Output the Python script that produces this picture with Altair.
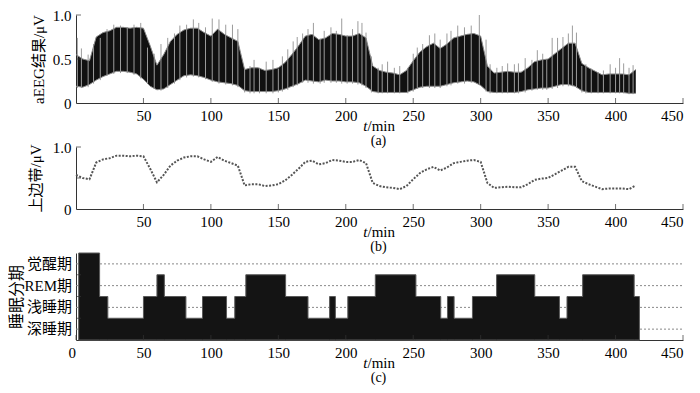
import altair as alt
import pandas as pd

FONT = "Liberation Serif, Noto Sans CJK SC"

# ---------------- data ----------------
env_t = [0, 5, 10, 15, 20, 25, 30, 35, 40, 45, 50, 55, 60, 65, 70, 75, 80, 85, 90, 95,
         100, 105, 110, 115, 120, 125, 130, 135, 140, 145, 150, 155, 160, 165, 170, 175,
         180, 185, 190, 195, 200, 205, 210, 215, 220, 225, 230, 235, 240, 245, 250, 255,
         260, 265, 270, 275, 280, 285, 290, 295, 300, 305, 310, 315, 320, 325, 330, 335,
         340, 345, 350, 355, 360, 365, 370, 375, 380, 385, 390, 395, 400, 405, 410, 415]
upper = [0.55, 0.50, 0.48, 0.75, 0.80, 0.82, 0.86, 0.86, 0.85, 0.86, 0.85, 0.65, 0.43,
         0.55, 0.70, 0.78, 0.83, 0.85, 0.85, 0.80, 0.76, 0.84, 0.78, 0.74, 0.70, 0.38,
         0.40, 0.40, 0.37, 0.38, 0.40, 0.46, 0.55, 0.65, 0.76, 0.78, 0.72, 0.74, 0.79,
         0.78, 0.76, 0.76, 0.79, 0.74, 0.42, 0.37, 0.35, 0.34, 0.32, 0.37, 0.48, 0.58,
         0.64, 0.68, 0.62, 0.67, 0.74, 0.76, 0.78, 0.79, 0.76, 0.42, 0.34, 0.35, 0.36,
         0.35, 0.35, 0.40, 0.47, 0.49, 0.50, 0.56, 0.62, 0.68, 0.68, 0.45, 0.40, 0.36,
         0.32, 0.33, 0.33, 0.33, 0.32, 0.38]
lower = [0.19, 0.18, 0.21, 0.26, 0.30, 0.33, 0.36, 0.36, 0.35, 0.33, 0.27, 0.19, 0.15,
         0.16, 0.21, 0.26, 0.31, 0.32, 0.31, 0.29, 0.26, 0.24, 0.23, 0.22, 0.20, 0.14,
         0.13, 0.13, 0.13, 0.13, 0.14, 0.16, 0.19, 0.22, 0.26, 0.25, 0.24, 0.26, 0.25,
         0.25, 0.24, 0.24, 0.23, 0.19, 0.13, 0.12, 0.12, 0.12, 0.12, 0.12, 0.15, 0.18,
         0.19, 0.19, 0.19, 0.21, 0.23, 0.24, 0.25, 0.24, 0.20, 0.13, 0.12, 0.12, 0.12,
         0.12, 0.13, 0.15, 0.16, 0.17, 0.17, 0.19, 0.21, 0.21, 0.19, 0.14, 0.12, 0.12,
         0.12, 0.12, 0.12, 0.12, 0.11, 0.11]

spike_t = [1, 4, 9, 13, 18, 23, 28, 33, 38, 43, 48, 53, 58, 63, 68, 73, 77, 82, 87, 91,
           96, 101, 106, 111, 116, 120, 125, 129, 132, 136, 141, 146, 150, 153, 157, 161,
           164, 168, 172, 176, 181, 184, 189, 193, 197, 201, 205, 209, 212, 215, 219, 224,
           227, 231, 236, 240, 246, 250, 253, 257, 262, 266, 270, 275, 278, 283, 288, 293,
           299, 304, 307, 312, 316, 320, 325, 328, 333, 338, 342, 346, 349, 353, 357, 361,
           365, 368, 371, 375, 378, 382, 387, 391, 396, 400, 403, 406, 410, 413]
spike_top = [0.74, 0.62, 0.55, 0.67, 0.74, 0.84, 0.89, 0.88, 0.86, 0.89, 0.91, 0.63, 0.56,
             0.67, 0.74, 0.79, 0.88, 0.89, 0.95, 0.91, 0.86, 0.96, 0.95, 0.89, 0.89, 0.84,
             0.40, 0.42, 0.49, 0.40, 0.47, 0.49, 0.39, 0.53, 0.61, 0.70, 0.75, 0.79, 0.84,
             0.91, 0.73, 0.82, 0.86, 0.82, 0.96, 0.77, 0.84, 0.93, 0.91, 0.80, 0.53, 0.40,
             0.44, 0.47, 0.40, 0.42, 0.40, 0.56, 0.63, 0.67, 0.77, 0.79, 0.72, 0.79, 0.82,
             0.88, 0.86, 0.88, 1.00, 0.72, 0.44, 0.40, 0.42, 0.45, 0.44, 0.45, 0.51, 0.49,
             0.60, 0.56, 0.49, 0.74, 0.74, 0.75, 0.79, 0.88, 0.80, 0.42, 0.44, 0.39, 0.35,
             0.37, 0.44, 0.40, 0.51, 0.45, 0.40, 0.43]
spike_bot = [0.17, 0.17, 0.18, 0.22, 0.26, 0.31, 0.33, 0.34, 0.34, 0.32, 0.28, 0.22, 0.16,
             0.14, 0.17, 0.22, 0.26, 0.29, 0.30, 0.29, 0.27, 0.24, 0.22, 0.21, 0.20, 0.18,
             0.12, 0.11, 0.11, 0.11, 0.11, 0.11, 0.12, 0.13, 0.15, 0.18, 0.20, 0.23, 0.23,
             0.22, 0.22, 0.23, 0.23, 0.23, 0.22, 0.22, 0.22, 0.21, 0.20, 0.17, 0.12, 0.11,
             0.11, 0.11, 0.11, 0.11, 0.11, 0.13, 0.16, 0.17, 0.17, 0.17, 0.17, 0.19, 0.20,
             0.22, 0.22, 0.23, 0.21, 0.13, 0.11, 0.11, 0.11, 0.11, 0.11, 0.11, 0.12, 0.14,
             0.15, 0.15, 0.15, 0.16, 0.17, 0.19, 0.19, 0.19, 0.17, 0.12, 0.11, 0.11, 0.11,
             0.11, 0.11, 0.11, 0.11, 0.11, 0.10, 0.10]

stage_t = [2, 17.5, 23.6, 50, 60, 65.5, 81.5, 93.8, 111.6, 117.7, 125.9, 155.4, 172, 188,
           192.3, 201.5, 221.9, 252, 270.4, 275.4, 280.3, 293.9, 311.8, 340.1, 358.4, 364,
           375.6, 413.8, 417.7]
stage_lv = [4, 2, 1, 2, 3, 2, 1, 2, 1, 2, 3, 2, 1, 2, 1, 2, 3, 2, 1, 2, 1, 2, 3, 2, 1, 2,
            3, 2, 2]
stage_names = ["深睡期", "浅睡期", "REM期", "觉醒期"]
stage_pos = [0.5, 1.5, 2.5, 3.5]
stage_ticks = [1, 2, 3]

x_ticks_ab = [50, 100, 150, 200, 250, 300, 350, 400, 450]
x_ticks_c = [0, 50, 100, 150, 200, 250, 300, 350, 400, 450]
y_ticks_ab = [0, 0.5, 1.0]
y_inner_ab = [0.5, 1.0]
panel_tags = ["(a)", "(b)", "(c)"]
y_titles = ["aEEG结果/μV", "上边带/μV", "睡眠分期"]

# ---------------- layout ----------------
W = 607
H_A, H_B, H_C = 88, 62, 87
AXC = "#333333"

x_scale = alt.Scale(domain=[0, 450], nice=False, zero=False)

env = pd.DataFrame({"t": env_t, "upper": upper, "lower": lower})
spk = pd.DataFrame({"t": spike_t, "top": spike_top, "bot": spike_bot})
stg = pd.DataFrame({"t": stage_t, "lv": stage_lv})
stage_lab = pd.DataFrame({"pos": stage_pos, "name": stage_names})


def x_axis(values, zero_shift=False):
    kw = {}
    if zero_shift:
        kw["labelOffset"] = {"condition": {"test": "datum.value == 0", "value": -8}, "value": 0}
    return alt.Axis(values=values, title=None, tickSize=0, labelPadding=5, grid=False,
                    domainColor=AXC, labelFont=FONT, labelFontSize=15, labelColor="black",
                    labelAngle=0, labelOverlap=False, **kw)


def y_axis_num(title, tp):
    return alt.Axis(values=y_ticks_ab, title=title, tickSize=0, labelPadding=5, grid=False,
                    domainColor=AXC, labelFont=FONT, labelFontSize=15, labelColor="black",
                    labelExpr="datum.value == 0 ? '0' : format(datum.value, '.1f')",
                    labelOverlap=False,
                    titleFont=FONT, titleFontSize=15, titleFontWeight="normal",
                    titleColor="black", titlePadding=tp)


def inner_x_ticks(h, vals):
    return alt.Chart(pd.DataFrame({"v": vals})).mark_tick(
        orient="vertical", size=5, thickness=1, color=AXC
    ).encode(x=alt.X("v:Q", scale=x_scale), y=alt.value(h - 2.5))


def inner_y_ticks(vals, yscale):
    return alt.Chart(pd.DataFrame({"v": vals})).mark_tick(
        orient="horizontal", size=5, thickness=1, color=AXC
    ).encode(y=alt.Y("v:Q", scale=yscale), x=alt.value(2.5))


def xtitle(h, tag):
    d = pd.DataFrame({"s": ["t"]})
    t1 = alt.Chart(d).mark_text(text="t", font="Liberation Serif", fontSize=15,
                                fontStyle="italic", align="right", baseline="middle",
                                color="black").encode(x=alt.value(W / 2 - 12), y=alt.value(h + 23))
    t2 = alt.Chart(d).mark_text(text="/min", font="Liberation Serif", fontSize=15,
                                align="left", baseline="middle",
                                color="black").encode(x=alt.value(W / 2 - 12), y=alt.value(h + 23))
    t3 = alt.Chart(d).mark_text(text=tag, font="Liberation Serif", fontSize=14,
                                align="center", baseline="middle",
                                color="black").encode(x=alt.value(W / 2 - 1), y=alt.value(h + 38))
    return [t1, t2, t3]


# ---- panel (a)
ys_a = alt.Scale(domain=[0, 1], nice=False)
base_a = alt.Chart(env)
area_a = base_a.mark_area(color="#111111").encode(
    x=alt.X("t:Q", scale=x_scale, axis=x_axis(x_ticks_ab)),
    y=alt.Y("upper:Q", scale=ys_a, axis=y_axis_num(y_titles[0], 6)),
    y2="lower:Q",
)
spikes = alt.Chart(spk).mark_rule(color="#9c9c9c", strokeWidth=1).encode(
    x=alt.X("t:Q", scale=x_scale),
    y=alt.Y("top:Q", scale=ys_a),
    y2="bot:Q",
)
up_a = base_a.mark_line(color="#8a8a8a", strokeWidth=1).encode(
    x=alt.X("t:Q", scale=x_scale), y=alt.Y("upper:Q", scale=ys_a))
lo_a = base_a.mark_line(color="#8a8a8a", strokeWidth=1).encode(
    x=alt.X("t:Q", scale=x_scale), y=alt.Y("lower:Q", scale=ys_a))
panel_a = alt.layer(area_a, spikes, up_a, lo_a, inner_x_ticks(H_A, x_ticks_ab),
                    inner_y_ticks(y_inner_ab, ys_a), *xtitle(H_A, panel_tags[0])
                    ).properties(width=W, height=H_A)

# ---- panel (b)
ys_b = alt.Scale(domain=[0, 1], nice=False)
line_b = alt.Chart(env).mark_line(color="#555555", strokeWidth=2, strokeDash=[2, 1.5]).encode(
    x=alt.X("t:Q", scale=x_scale, axis=x_axis(x_ticks_ab)),
    y=alt.Y("upper:Q", scale=ys_b, axis=y_axis_num(y_titles[1], 9)),
)
panel_b = alt.layer(line_b, inner_x_ticks(H_B, x_ticks_ab), inner_y_ticks(y_inner_ab, ys_b),
                    *xtitle(H_B, panel_tags[1])).properties(width=W, height=H_B)

# ---- panel (c)
ys_c = alt.Scale(domain=[0, 4], nice=False)
# dotted stage reference lines (drawn behind the hypnogram)
grid_c = alt.Chart(stage_lab).mark_rule(color="#888888", strokeWidth=1, strokeDash=[2, 2]).encode(
    y=alt.Y("pos:Q", scale=ys_c),
    x=alt.value(0), x2=alt.value(W),
)
area_c = alt.Chart(stg).mark_area(interpolate="step-after", fill="#141414", stroke="#5a5a5a",
                                  strokeWidth=1).encode(
    x=alt.X("t:Q", scale=x_scale, axis=x_axis(x_ticks_c, zero_shift=True)),
    y=alt.Y("lv:Q", scale=ys_c, axis=alt.Axis(
        values=[0], labels=False, title=y_titles[2], tickSize=0, grid=False,
        domainColor=AXC, titleFont=FONT, titleFontSize=16, titleFontWeight="normal",
        titleColor="black", titlePadding=51)),
)
labels_c = alt.Chart(stage_lab).mark_text(
    font=FONT, fontSize=15, align="right", baseline="middle", color="black"
).encode(y=alt.Y("pos:Q", scale=ys_c), x=alt.value(-4), text="name:N")
panel_c = alt.layer(grid_c, area_c, inner_x_ticks(H_C, x_ticks_c),
                    inner_y_ticks(stage_ticks, ys_c), labels_c,
                    *xtitle(H_C, panel_tags[2])).properties(width=W, height=H_C)

chart = alt.vconcat(panel_a, panel_b, panel_c, spacing=44, bounds="flush").properties(
    padding={"left": 0, "top": 0, "right": 2, "bottom": 0}
).configure_view(stroke=None)

chart.save("out.html", embed_options={"renderer": "svg", "actions": False})
